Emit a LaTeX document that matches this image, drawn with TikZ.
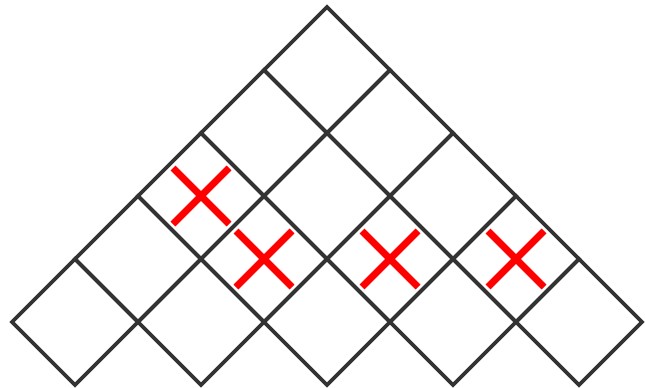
\documentclass[tikz,border=0pt]{standalone}
\definecolor{gridgray}{HTML}{333333}
\definecolor{xred}{HTML}{FF0000}
\tikzset{
  cell/.style={draw=gridgray, line width=3.6pt, line join=miter},
  cross/.style={draw=xred, line width=7pt, line cap=butt}
}
\begin{document}
\begin{tikzpicture}[x=1pt,y=-1pt]
\useasboundingbox (0,0) rectangle (645,388);
\def\d{63}
\foreach \r in {1,...,5}{
  \pgfmathtruncatemacro{\kmax}{\r-1}
  \foreach \k in {0,...,\kmax}{
    \pgfmathsetmacro{\cx}{327+(2*\k-(\r-1))*\d}
    \pgfmathsetmacro{\cy}{7+\r*\d}
    \draw[cell] (\cx,\cy-\d) -- (\cx+\d,\cy) -- (\cx,\cy+\d) -- (\cx-\d,\cy) -- cycle;
  }
}
\foreach \cx/\cy in {201/196, 264/259, 390/259, 516/259}{
  \draw[cross] (\cx-28,\cy-28) -- (\cx+28,\cy+28);
  \draw[cross] (\cx-28,\cy+28) -- (\cx+28,\cy-28);
}
\end{tikzpicture}
\end{document}
